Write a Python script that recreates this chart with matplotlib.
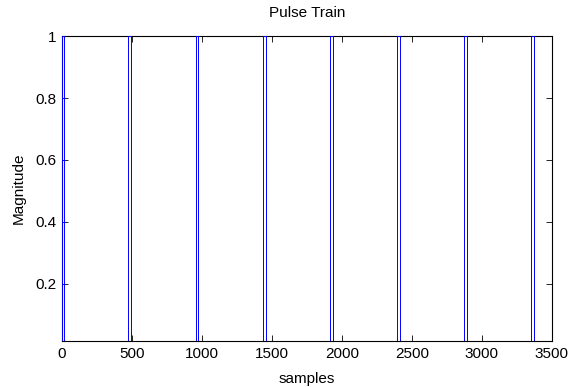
import matplotlib
matplotlib.use("Agg")
import matplotlib.pyplot as plt
import numpy as np

plt.rcParams['font.family'] = ['Liberation Sans', 'DejaVu Sans']

# pulse edges (samples)
pulse_starts = [0, 475, 956, 1438, 1918, 2396, 2873, 3352]
pulse_ends = [16, 492, 974, 1456, 1936, 2416, 2893, 3374]
n_samples = 3500
xticks = [0, 500, 1000, 1500, 2000, 2500, 3000, 3500]
yticks = [0.2, 0.4, 0.6, 0.8, 1]

xs = [0]
ys = [0]
for s, e in zip(pulse_starts, pulse_ends):
    xs += [s, s, e, e]
    ys += [0, 1, 1, 0]
xs.append(n_samples)
ys.append(0)

fig = plt.figure(figsize=(5.71, 3.87), dpi=100)
ax = fig.add_axes([0.1086, 0.1189, 0.858, 0.788])
ax.plot(xs, ys, color='blue', lw=0.7, zorder=3)
ax.set_xlim(0, 3500)
ax.set_ylim(0.016, 1)
ax.set_xticks(xticks)
ax.set_yticks(yticks)
ax.set_yticklabels(['0.2', '0.4', '0.6', '0.8', '1'])
ax.tick_params(direction='in', top=True, right=True, labelsize=11, length=4, width=0.6, pad=4)
for sp in ax.spines.values():
    sp.set_linewidth(0.8)
ax.set_title('Pulse Train', fontsize=11, pad=14)
ax.set_xlabel('samples', fontsize=11, labelpad=8)
ax.set_ylabel('Magnitude', fontsize=11, labelpad=7)
fig.savefig('out.png', dpi=100)
